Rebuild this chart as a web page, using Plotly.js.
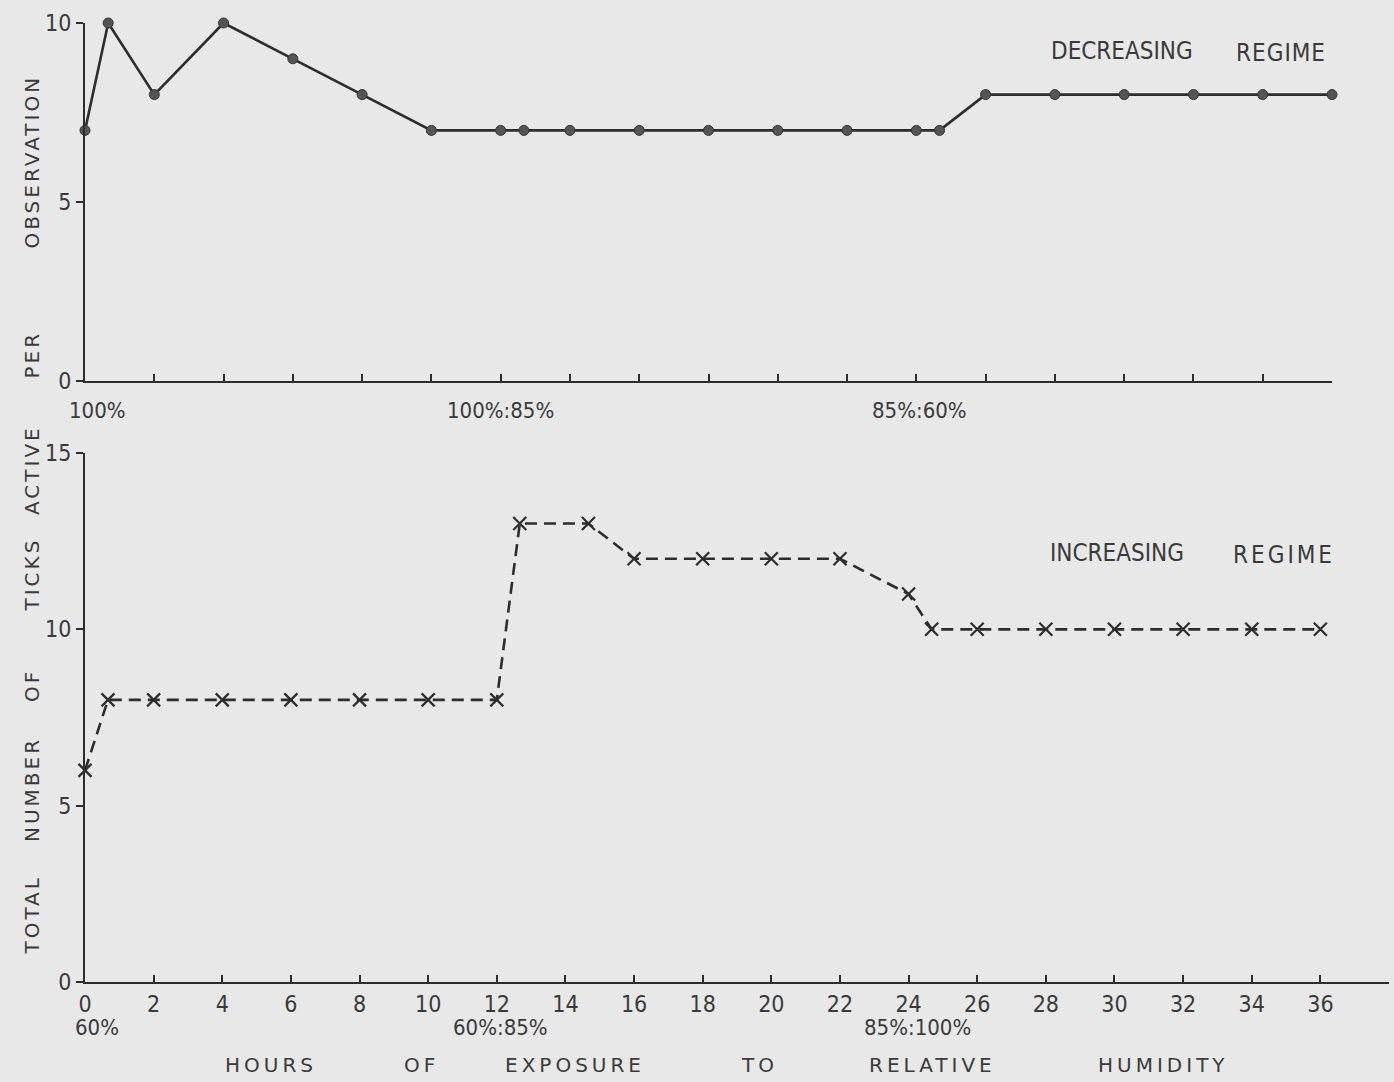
<!DOCTYPE html>
<html>
<head>
<meta charset="utf-8">
<script src="https://cdn.plot.ly/plotly-3.0.1.min.js"></script>
<style>
  html, body { margin: 0; padding: 0; background: #e8e8e8; }
  #chart { width: 1394px; height: 1082px; }
  .annotation[data-index="0"] text, .annotation[data-index="1"] text, .annotation[data-index="2"] text,
  .annotation[data-index="3"] text, .annotation[data-index="4"] text, .annotation[data-index="5"] text,
  .annotation[data-index="6"] text { letter-spacing: 3px; }
  .annotation[data-index="7"] text, .annotation[data-index="8"] text, .annotation[data-index="9"] text,
  .annotation[data-index="10"] text, .annotation[data-index="11"] text, .annotation[data-index="12"] text { letter-spacing: 4px; }
  .annotation[data-index="14"] text { letter-spacing: 1px; }
  .annotation[data-index="16"] text { letter-spacing: 3px; }
</style>
</head>
<body>
<div id="chart"></div>
<script>
// Decreasing regime (top panel): hours and ticks active per observation
const decHours = [0, 0.67, 2, 4, 6, 8, 10, 12, 12.67, 14, 16, 18, 20, 22, 24, 24.67, 26, 28, 30, 32, 34, 36];
const decTicks = [7, 10, 8, 10, 9, 8, 7, 7, 7, 7, 7, 7, 7, 7, 7, 7, 8, 8, 8, 8, 8, 8];

// Increasing regime (bottom panel)
const incHours = [0, 0.67, 2, 4, 6, 8, 10, 12, 12.67, 14.67, 16, 18, 20, 22, 24, 24.67, 26, 28, 30, 32, 34, 36];
const incTicks = [6, 8, 8, 8, 8, 8, 8, 8, 13, 13, 12, 12, 12, 12, 11, 10, 10, 10, 10, 10, 10, 10];

// Axis ticks
const hourTicks = [0, 2, 4, 6, 8, 10, 12, 14, 16, 18, 20, 22, 24, 26, 28, 30, 32, 34, 36];
const hourTickLabels = hourTicks.map(String);
const topYTicks = [0, 5, 10];
const bottomYTicks = [0, 5, 10, 15];

// Text labels
const yTitleWords = ["OBSERVATION", "PER", "ACTIVE", "TICKS", "OF", "NUMBER", "TOTAL"];
const xTitleWords = ["HOURS", "OF", "EXPOSURE", "TO", "RELATIVE", "HUMIDITY"];
const topRH = ["100%", "100%:85%", "85%:60%"];
const bottomRH = ["60%", "60%:85%", "85%:100%"];

const W = 1394, H = 1082;
const px = v => v / W;
const py = v => 1 - v / H;

const ink = '#2d2d2d';
const textInk = '#3a3a3a';
const condensed = '"DejaVu Sans Condensed", "Liberation Sans Narrow", sans-serif';
const wide = '"DejaVu Sans", "Liberation Sans", sans-serif';

const traces = [
  {
    x: decHours, y: decTicks, xaxis: 'x', yaxis: 'y',
    mode: 'lines+markers', type: 'scatter', cliponaxis: false,
    line: { color: ink, width: 2.6 },
    marker: { symbol: 'circle', size: 10, color: '#555', line: { color: '#333', width: 1 } },
    hoverinfo: 'x+y', showlegend: false
  },
  {
    x: incHours, y: incTicks, xaxis: 'x2', yaxis: 'y2',
    mode: 'lines+markers', type: 'scatter', cliponaxis: false,
    line: { color: ink, width: 2.6, dash: '12px,7px' },
    marker: { symbol: 'x-thin-open', size: 13, color: ink, line: { color: ink, width: 2.2 } },
    hoverinfo: 'x+y', showlegend: false
  }
];

// Annotations
const annotations = [];
const yWordPos = [162, 355, 470, 575, 686, 790, 915];
yTitleWords.forEach((w, i) => annotations.push({
  text: w, xref: 'paper', yref: 'paper', x: px(32), y: py(yWordPos[i]),
  xanchor: 'center', yanchor: 'middle', textangle: -90, showarrow: false,
  font: { family: wide, size: 20, color: textInk }
}));
const xWordPos = [271, 421, 575, 759, 932, 1163];
xTitleWords.forEach((w, i) => annotations.push({
  text: w, xref: 'paper', yref: 'paper', x: px(xWordPos[i]), y: py(1065),
  xanchor: 'center', yanchor: 'middle', showarrow: false,
  font: { family: wide, size: 20, color: textInk }
}));
// 13..16 regime labels
annotations.push({ text: 'DECREASING', xref: 'paper', yref: 'paper', x: px(1122), y: py(51),
  xanchor: 'center', yanchor: 'middle', showarrow: false, font: { family: condensed, size: 24, color: textInk } });
annotations.push({ text: 'REGIME', xref: 'paper', yref: 'paper', x: px(1281), y: py(53),
  xanchor: 'center', yanchor: 'middle', showarrow: false, font: { family: condensed, size: 24, color: textInk } });
annotations.push({ text: 'INCREASING', xref: 'paper', yref: 'paper', x: px(1117), y: py(553),
  xanchor: 'center', yanchor: 'middle', showarrow: false, font: { family: condensed, size: 24, color: textInk } });
annotations.push({ text: 'REGIME', xref: 'paper', yref: 'paper', x: px(1284), y: py(555),
  xanchor: 'center', yanchor: 'middle', showarrow: false, font: { family: condensed, size: 24, color: textInk } });
// RH labels
const topRHPos = [97, 500, 920];
topRH.forEach((t, i) => annotations.push({
  text: t, xref: 'paper', yref: 'paper', x: px(topRHPos[i]), y: py(410),
  xanchor: 'center', yanchor: 'middle', showarrow: false,
  font: { family: condensed, size: 22, color: textInk }
}));
const botRHPos = [97, 500, 917];
bottomRH.forEach((t, i) => annotations.push({
  text: t, xref: 'paper', yref: 'paper', x: px(botRHPos[i]), y: py(1027),
  xanchor: 'center', yanchor: 'middle', showarrow: false,
  font: { family: condensed, size: 22, color: textInk }
}));

const axisCommon = {
  showgrid: false, zeroline: false, showline: true, linecolor: ink, linewidth: 2,
  tickcolor: ink, tickwidth: 2, ticklen: 7,
  tickfont: { family: condensed, size: 23, color: textInk }
};

const layout = {
  width: W, height: H,
  margin: { l: 0, r: 0, t: 0, b: 0 },
  paper_bgcolor: '#e8e8e8', plot_bgcolor: 'rgba(0,0,0,0)',
  showlegend: false,
  xaxis: Object.assign({}, axisCommon, {
    domain: [px(85), px(1332)], range: [0, 36], anchor: 'y',
    tickmode: 'array', tickvals: hourTicks, ticks: 'inside', showticklabels: false
  }),
  yaxis: Object.assign({}, axisCommon, {
    domain: [py(381), py(23)], range: [0, 10], anchor: 'x',
    tickmode: 'array', tickvals: topYTicks, ticks: 'outside'
  }),
  xaxis2: Object.assign({}, axisCommon, {
    domain: [px(85), px(1389)], range: [0, 38], anchor: 'y2',
    tickmode: 'array', tickvals: hourTicks, ticktext: hourTickLabels, ticks: 'inside'
  }),
  yaxis2: Object.assign({}, axisCommon, {
    domain: [py(982), py(453)], range: [0, 15], anchor: 'x2',
    tickmode: 'array', tickvals: bottomYTicks, ticks: 'outside'
  }),
  annotations: annotations
};

Plotly.newPlot('chart', traces, layout, { displayModeBar: false, staticPlot: true });
</script>
</body>
</html>
